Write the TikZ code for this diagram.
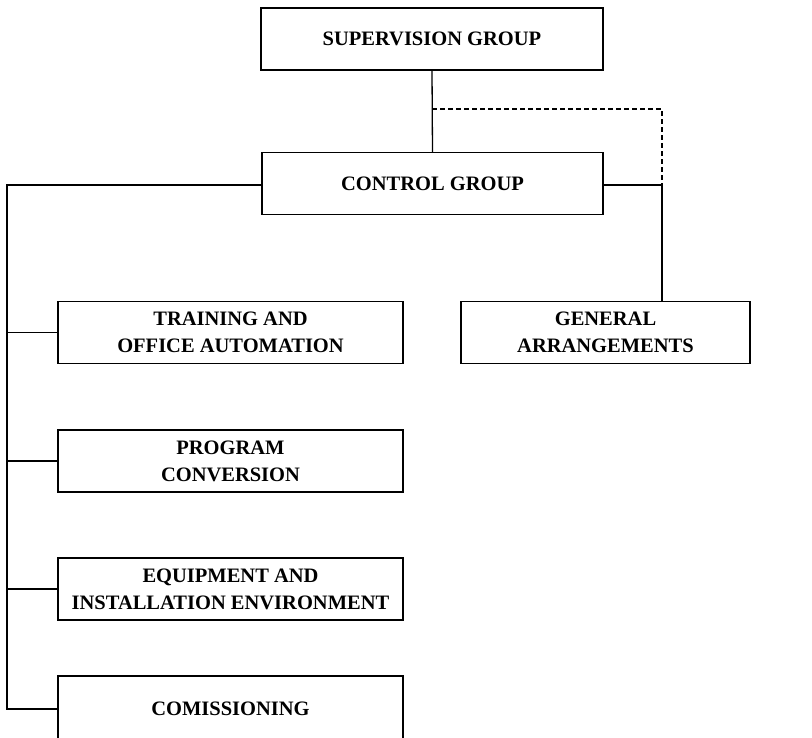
\documentclass[tikz,border=0pt]{standalone}
\usepackage{fontspec}
\setmainfont{Liberation Serif}
\begin{document}
\begin{tikzpicture}[x=1pt,y=-1pt,
  box/.style={draw,line width=1.3pt,inner sep=0pt,align=center,
    font=\fontsize{20.5}{27}\selectfont\bfseries},
  conn/.style={line width=1.3pt},
  dconn/.style={line width=1.1pt,dash pattern=on 5pt off 3pt}]
\clip (0,0) rectangle (812,737);
\fill[white] (0,0) rectangle (812,737);
\node[box,minimum width=342pt,minimum height=62pt] (sup) at (432,39) {SUPERVISION GROUP};
\node[box,minimum width=341pt,minimum height=62pt] (ctrl) at (432.5,183.5) {CONTROL GROUP};
\node[box,minimum width=289pt,minimum height=62pt] (gen) at (605.5,332.5) {GENERAL\\ARRANGEMENTS};
\node[box,minimum width=345pt,minimum height=62pt] (tr) at (230.5,332.5) {TRAINING AND\\OFFICE AUTOMATION};
\node[box,minimum width=345pt,minimum height=62pt] (pc) at (230.5,461) {PROGRAM\\CONVERSION};
\node[box,minimum width=345pt,minimum height=62pt] (eq) at (230.5,589) {EQUIPMENT AND\\INSTALLATION ENVIRONMENT};
\node[box,minimum width=345pt,minimum height=66pt] (com) at (230.5,709) {COMISSIONING};
\coordinate (d) at (432,109);
\coordinate (j) at (662,185);
\coordinate (L) at (7,185);
\draw[conn] (sup.south) -- (ctrl.north);
\draw[dconn] (d) -| (j);
\draw[conn] (ctrl.east |- j) -- (j) -- (gen.north -| j);
\draw[conn] (ctrl.west |- L) -- (L) |- (com.west);
\draw[conn] (L |- tr.west) -- (tr.west);
\draw[conn] (L |- pc.west) -- (pc.west);
\draw[conn] (L |- eq.west) -- (eq.west);
\end{tikzpicture}
\end{document}
